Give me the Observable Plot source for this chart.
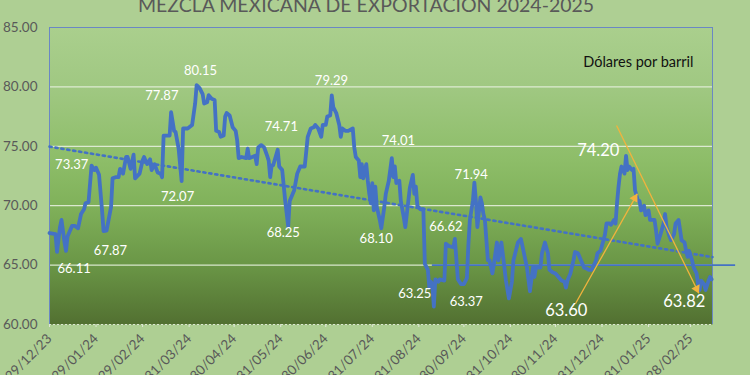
<!DOCTYPE html>
<html>
<head>
<meta charset="utf-8">
<script src="https://cdn.jsdelivr.net/npm/d3@7"></script>
<script src="https://cdn.jsdelivr.net/npm/@observablehq/plot@0.6"></script>
<style>
html, body { margin: 0; padding: 0; background: #AECF93; }
#chart { position: relative; width: 750px; height: 375px; overflow: hidden; }
svg { display: block; }
</style>
</head>
<body>
<div id="chart"></div>
<script>
// ---------- DATA ----------
const titleText = "MEZCLA MEXICANA DE EXPORTACIÓN 2024-2025";
const unitText = "Dólares por barril";
const startDate = "2023-12-29";

// days since startDate, and price (USD/bbl)
const dayOffsets = [
  0,4,5,7,8,10,11,12,15,17,19,21,23,24,26,28,30,31,33,35,36,38,41,42,44,46,47,49,51,52,54,56,57,60,62,63,65,67,68,70,72,74,75,76,80,81,83,84,86,88,89,91,
  92,95,97,98,100,102,103,105,106,108,110,111,113,114,116,117,118,120,122,124,125,126,128,131,132,133,135,137,138,139,141,143,145,146,147,148,149,152,153,155,157,159,160,163,165,167,170,172,174,176,
  177,179,181,182,184,185,187,188,189,191,193,194,195,197,199,202,203,204,206,207,208,209,211,212,213,214,215,216,217,218,220,221,223,224,226,228,229,230,231,233,234,236,237,239,240,242,243,244,245,247,249,250,252,253,254,255,256,257,259,260,263,264,266,
  269,270,272,274,276,278,279,280,282,283,284,285,287,288,289,290,292,293,295,296,298,299,301,303,304,306,308,309,312,314,316,317,318,320,322,323,324,327,328,330,332,333,335,337,339,341,343,344,345,347,349,350,352,354,356,358,
  359,361,363,364,365,367,369,370,371,373,374,376,377,378,379,380,381,383,384,385,386,388,389,390,392,393,394,396,397,399,400,403,404,405,407,409,410,411,413,414,416,417,419,421,423,424,425,426,428,429,431,432,433,434,436,437,439,440,441
];
const prices = [
  67.7,67.6,66.11,68.2,68.8,66.9,66.2,67.4,68.3,68.3,68.1,69.3,69.7,70.2,70.3,73.37,73.0,73.2,72.6,69.6,67.87,67.9,69.9,72.3,72.4,72.4,73.1,72.7,74.1,74.1,73.1,74.3,72.3,72.7,73.8,74.1,73.5,73.9,73.0,73.5,72.8,72.7,72.4,75.9,75.9,77.87,76.3,76.2,74.8,72.07,76.5,76.5,
  76.5,76.8,78.6,80.15,79.9,79.4,78.6,78.7,79.3,79.0,78.9,76.3,76.2,75.8,75.9,77.5,77.8,77.6,76.6,76.3,75.5,74.0,74.1,74.0,74.8,74.0,74.1,74.2,73.5,74.9,75.1,74.9,74.2,73.8,72.4,73.4,73.4,74.71,73.3,73.0,70.4,68.25,70.4,71.3,72.7,73.3,73.3,75.8,76.5,76.6,
  76.8,76.5,75.8,76.8,76.8,77.5,77.6,79.29,78.3,77.8,76.8,75.8,76.5,76.3,76.3,76.5,74.9,74.1,73.8,72.4,73.5,72.3,73.5,72.1,71.0,70.2,71.9,69.6,71.6,69.9,68.8,68.1,69.9,71.0,72.1,74.01,72.4,73.3,71.9,72.1,70.4,69.0,68.2,70.4,71.5,72.6,71.0,71.6,70.0,69.7,69.7,65.1,64.6,63.1,63.6,63.4,61.5,63.8,63.6,63.8,63.7,66.8,66.6,
  66.5,67.2,63.8,63.4,63.4,63.9,66.7,68.8,70.4,71.94,70.4,68.2,70.7,70.2,69.3,68.8,65.4,65.4,64.3,65.1,66.9,65.4,66.9,64.8,63.7,62.2,63.6,65.4,66.9,67.2,66.0,65.4,64.8,62.8,64.8,64.0,64.8,64.8,66.0,66.9,66.0,64.6,64.4,64.3,64.0,63.7,63.6,63.1,63.7,64.3,65.4,66.1,66.0,65.4,64.8,64.7,
  64.6,64.6,65.1,65.4,66.0,66.2,67.1,67.6,68.5,68.5,68.4,68.8,68.5,70.2,71.6,72.7,73.3,72.7,74.2,73.0,73.3,73.0,73.1,71.3,70.4,70.4,69.6,70.0,69.2,69.6,68.8,68.8,67.9,66.8,67.6,68.5,69.3,68.2,67.4,67.1,67.6,68.5,68.8,67.1,66.9,66.2,65.7,66.2,65.4,64.8,64.3,63.4,62.9,63.7,63.4,62.9,63.7,64.0,63.8
];

// x axis tick dates and y ticks
const xTickDates = ["2023-12-29","2024-01-29","2024-02-29","2024-03-31","2024-04-30","2024-05-31","2024-06-30","2024-07-31","2024-08-31","2024-09-30","2024-10-31","2024-11-30","2024-12-31","2025-01-31","2025-02-28"];
const yTicks = [60, 65, 70, 75, 80, 85];
const xEndDay = 441.6;

// dotted linear trend
const trendDays = [0, 441.6];
const trendValues = [74.97, 65.67];

// horizontal support line
const supportValue = 65;
const supportDays = [255, 457];

// value labels (small)
const labelTexts  = ["73.37","66.11","67.87","77.87","72.07","80.15","74.71","68.25","79.29","74.01","68.10","66.62","63.25","63.37","71.94"];
const labelDays   = [14.8, 16.4, 40.6, 74.8, 85.3, 100.6, 154.4, 155.7, 187.8, 232.4, 217.6, 264.0, 243.3, 277.6, 280.9];
const labelValues = [73.41, 64.65, 66.20, 79.25, 70.75, 81.34, 76.61, 67.74, 80.51, 75.46, 67.18, 68.22, 62.55, 61.94, 72.57];

// value labels (large)
const bigLabelTexts  = ["74.20","63.60","63.82"];
const bigLabelDays   = [365.5, 344.2, 422.8];
const bigLabelValues = [74.65, 61.18, 61.88];

// arrows
const arrowStartDays   = [350.4, 377.7];
const arrowStartValues = [61.77, 76.75];
const arrowEndDays     = [391.5, 432.5];
const arrowEndValues   = [71.0, 62.63];
const arrowAngles      = [29, 154];

// ---------- BUILD ----------
const start = d3.utcParse("%Y-%m-%d")(startDate);
const toDate = d => new Date(start.getTime() + d * 864e5);
const series = dayOffsets.map((d, i) => ({date: toDate(d), price: prices[i]}));
const trend = trendDays.map((d, i) => ({date: toDate(d), v: trendValues[i]}));
const labels = labelTexts.map((t, i) => ({t, date: toDate(labelDays[i]), v: labelValues[i]}));
const bigLabels = bigLabelTexts.map((t, i) => ({t, date: toDate(bigLabelDays[i]), v: bigLabelValues[i]}));
const arrows = arrowStartDays.map((d, i) => ({
  x1: toDate(d), y1: arrowStartValues[i], x2: toDate(arrowEndDays[i]), y2: arrowEndValues[i], a: arrowAngles[i]
}));
const ticks = xTickDates.map(d3.utcParse("%Y-%m-%d"));
const blue = "#4472C4";
const gold = "#F2B33D";

const plot = Plot.plot({
  width: 750,
  height: 375,
  marginLeft: 49,
  marginRight: 38,
  marginTop: 27,
  marginBottom: 51,
  style: {background: "transparent", fontFamily: "Lato, 'Open Sans', sans-serif", overflow: "visible"},
  x: {type: "utc", domain: [toDate(0), toDate(xEndDay)]},
  y: {domain: [60, 85]},
  marks: [
    Plot.frame({fill: "url(#plotBg)"}),
    Plot.gridY(yTicks.filter(v => v > 60), {stroke: "#E4EEDB", strokeOpacity: 0.9, strokeWidth: 1.2}),
    Plot.ruleY([60], {stroke: "#E4EEDB", strokeOpacity: 0.9, strokeDasharray: "2,2"}),
    Plot.axisY(yTicks, {tickSize: 0, tickPadding: 12, tickFormat: d => d.toFixed(2), fontSize: 13.5, fill: "#595959"}),
    Plot.axisX(ticks, {tickRotate: -45, tickFormat: d3.utcFormat("%d/%m/%y"), tickSize: 3, stroke: "#DDE6D5", fill: "#595959", fontSize: 13.5, tickPadding: 9}),
    Plot.ruleY([85], {stroke: "#6A87C4", strokeWidth: 1}),
    Plot.ruleX([toDate(0), toDate(xEndDay)], {stroke: "#6A87C4", strokeWidth: 1}),
    Plot.line(trend, {x: "date", y: "v", stroke: blue, strokeWidth: 2.6, strokeDasharray: "2.2,3.8"}),
    Plot.line(series, {x: "date", y: "price", stroke: blue, strokeWidth: 3.8, strokeLinejoin: "round", strokeLinecap: "round"}),
    Plot.ruleY([supportValue], {x1: toDate(supportDays[0]), x2: toDate(supportDays[1]), stroke: blue, strokeWidth: 1.6}),
    Plot.link(arrows, {x1: "x1", y1: "y1", x2: "x2", y2: "y2", stroke: gold, strokeWidth: 1.3}),
    Plot.dot([arrows[0]], {x: "x2", y: "y2", symbol: "triangle", r: 3.4, fill: gold, stroke: "none", rotate: "a", dx: -2.5, dy: 4.4}),
    Plot.dot([arrows[1]], {x: "x2", y: "y2", symbol: "triangle", r: 3.4, fill: gold, stroke: "none", rotate: "a", dx: -2.2, dy: -4.5}),
    Plot.text(labels, {x: "date", y: "v", text: "t", fill: "white", fontSize: 13, lineAnchor: "middle", textAnchor: "middle"}),
    Plot.text(bigLabels, {x: "date", y: "v", text: "t", fill: "white", fontSize: 16.5, lineAnchor: "middle", textAnchor: "middle"}),
    Plot.text([unitText], {frameAnchor: "top-right", textAnchor: "end", lineAnchor: "middle", dx: -19, dy: 35, fontSize: 14.5, fill: "#111"}),
    Plot.text([titleText], {frameAnchor: "top", textAnchor: "middle", lineAnchor: "middle", dx: -15, dy: -22, fontSize: 19.5, fill: "#595959"})
  ]
});

const svg = d3.select(plot);
const defs = svg.insert("defs", ":first-child");
const grad = defs.append("linearGradient").attr("id", "plotBg")
  .attr("x1", 0).attr("y1", 0).attr("x2", 0).attr("y2", 1);
[[0, "#AACF8D"], [0.2, "#A0C882"], [0.45, "#8DBD68"], [0.6, "#80B15A"], [0.8, "#6A9646"], [1, "#527031"]]
  .forEach(([o, c]) => grad.append("stop").attr("offset", o).attr("stop-color", c));

document.getElementById("chart").appendChild(plot);
</script>
</body>
</html>
